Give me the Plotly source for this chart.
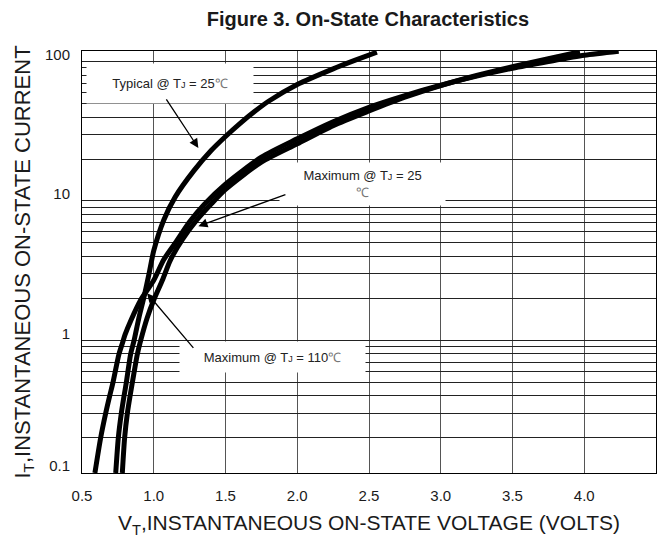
import numpy as np
import plotly.graph_objects as go

# ---- curve data: on-state voltage (V) vs on-state current (A) ----
typ25_v = [0.735, 0.753, 0.774, 0.793, 0.809, 0.839, 0.863, 0.897, 0.932, 0.967, 1.0, 1.07,
           1.15, 1.28, 1.4, 1.5, 1.6, 1.7, 1.8, 2.0, 2.25, 2.4, 2.555]
typ25_i = [0.112, 0.2, 0.3, 0.4, 0.5, 0.8, 1.0, 1.46, 2.05, 3.0, 4.4, 7.3,
           10.7, 16.5, 23.0, 29.0, 35.9, 43.6, 51.9, 68.4, 88.6, 101.8, 116.7]

max25_v = [0.781, 0.797, 0.816, 0.835, 0.851, 0.886, 0.909, 0.955, 1.0, 1.06, 1.116, 1.2,
           1.3, 1.4, 1.5, 1.75, 2.0, 2.25, 2.5, 2.75, 3.0, 3.25, 3.5, 3.75, 3.97]
max25_i = [0.112, 0.2, 0.3, 0.4, 0.5, 0.8, 1.0, 1.46, 1.95, 2.7, 3.77, 5.3,
           7.3, 9.5, 12.1, 19.0, 25.7, 34.7, 44.2, 55.5, 67.3, 79.4, 91.8, 104.7, 117.5]

max110_v = [0.59, 0.63, 0.665, 0.693, 0.716, 0.758, 0.781, 0.80, 0.839, 0.909, 1.0, 1.07, 1.15,
            1.25, 1.35, 1.5, 1.75, 2.0, 2.25, 2.5, 2.75, 3.0, 3.25, 3.5, 3.75, 4.0, 4.24]
max110_i = [0.112, 0.2, 0.3, 0.4, 0.5, 0.8, 0.95, 1.1, 1.38, 1.95, 2.7, 3.8, 5.0,
            7.1, 9.4, 13.2, 20.6, 27.9, 37.0, 47.0, 57.0, 67.6, 78.5, 89.5, 100.0, 110.9, 118.5]

# ---- axes ----
x_ticks = [0.5, 1.0, 1.5, 2.0, 2.5, 3.0, 3.5, 4.0, 4.5]
y_bottom, y_top = 0.112, 119.0
y_decades = [1, 10, 100]
y_decade_text = ["1", "10", "100"]
y_bottom_text = "0.1"

FONT = "Arial, 'Liberation Sans', sans-serif"
INK = "#1a1a1a"

# grid values: every 1..9 multiple inside the range
grid_vals = []
for dec in [0.1, 1, 10, 100]:
    for m in range(1, 10):
        v = round(m * dec, 6)
        if y_bottom < v <= y_top:
            grid_vals.append(v)
y_tickvals = [y_bottom] + grid_vals
y_ticktext = [y_bottom_text] + [
    y_decade_text[y_decades.index(v)] if v in y_decades else "" for v in grid_vals
]

fig = go.Figure()
for vs, cs in [(max110_v, max110_i), (max25_v, max25_i), (typ25_v, typ25_i)]:
    fig.add_trace(go.Scatter(
        x=vs, y=cs, mode="lines",
        line=dict(color="black", width=5, shape="spline", smoothing=0.7),
        showlegend=False, hoverinfo="skip",
    ))

small_j = "<span style='font-size:9px'>J</span>"
deg_c = "<span style='color:#777'>℃</span>"

labels = [
    dict(text=f"Typical @ T{small_j} = 25{deg_c}", x=1.116, y=69.7, w=160, h=33),
    dict(text=f"Maximum @ T{small_j} = 25<br>{deg_c}", x=2.456, y=13.2, w=159, h=36),
    dict(text=f"Maximum @ T{small_j} = 110{deg_c}", x=1.829, y=0.759, w=179, h=24),
]
for lb in labels:
    fig.add_annotation(
        x=lb["x"], y=np.log10(lb["y"]), xref="x", yref="y",
        text=lb["text"], showarrow=False,
        width=lb["w"], height=lb["h"], bgcolor="white", borderpad=3,
        font=dict(family=FONT, size=13, color="#222"), align="center",
    )

# pointer arrows: (tail V, tail A) -> (tip V, tip A)
arrows = [
    (1.081, 54.9, 1.311, 24.0),
    (1.928, 11.2, 1.311, 6.6),
    (1.285, 0.862, 0.953, 2.18),
]
for tv, ti, hv, hi in arrows:
    fig.add_annotation(
        x=hv, y=np.log10(hi), ax=tv, ay=np.log10(ti),
        xref="x", yref="y", axref="x", ayref="y",
        text="", showarrow=True, arrowhead=2, arrowsize=1.4,
        arrowwidth=1.3, arrowcolor="black", standoff=0,
    )

fig.update_layout(
    width=664, height=539,
    margin=dict(l=82, r=8, t=51, b=66),
    paper_bgcolor="white", plot_bgcolor="white",
    font=dict(family=FONT, color=INK),
    title=dict(
        text="<b>Figure 3. On-State Characteristics</b>",
        x=0.554, xref="container", xanchor="center",
        y=0.965, yref="container", yanchor="middle",
        font=dict(family=FONT, size=20, color=INK),
    ),
)
fig.update_xaxes(
    range=[0.5, 4.5], tickvals=x_ticks, ticktext=[f"{t:.1f}" for t in x_ticks],
    showgrid=True, gridcolor="#555", gridwidth=1,
    showline=True, linecolor="black", linewidth=1, mirror=True,
    ticks="", ticklabelstandoff=9, zeroline=False,
    tickfont=dict(family=FONT, size=15, color=INK),
    title=dict(text="V<sub>T</sub>,INSTANTANEOUS ON-STATE VOLTAGE (VOLTS)",
               font=dict(family=FONT, size=21, color=INK), standoff=12),
)
fig.update_yaxes(
    type="log", range=[np.log10(y_bottom), np.log10(y_top)],
    tickvals=y_tickvals, ticktext=y_ticktext,
    showgrid=True, gridcolor="#222", gridwidth=1,
    showline=True, linecolor="black", linewidth=1, mirror=True,
    ticks="", ticklabelstandoff=8, ticklabelshift=-7, zeroline=False,
    tickfont=dict(family=FONT, size=15, color=INK),
    title=dict(text="I<sub>T</sub>,INSTANTANEOUS ON-STATE CURRENT",
               font=dict(family=FONT, size=22, color=INK), standoff=8),
)

fig.write_html("out.html")
